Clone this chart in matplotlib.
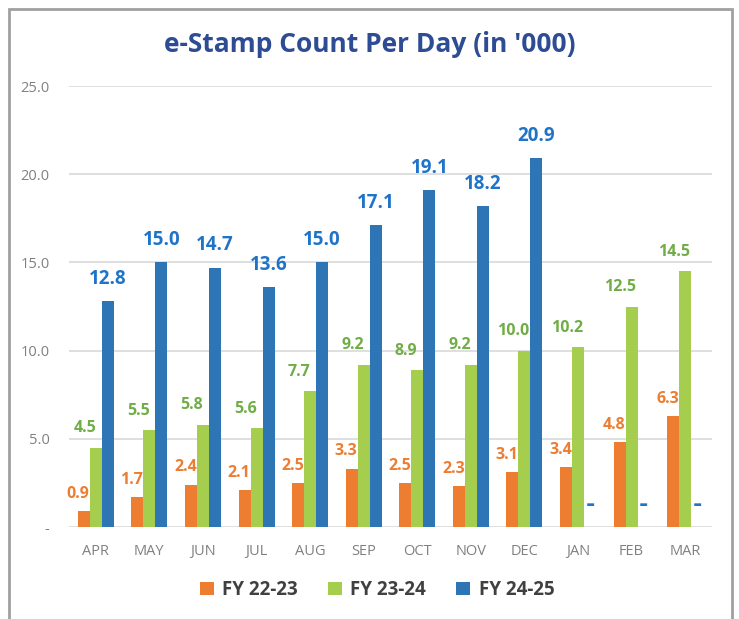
import matplotlib
matplotlib.use("Agg")
import matplotlib.pyplot as plt
from matplotlib.patches import Rectangle
import numpy as np

months = ["APR", "MAY", "JUN", "JUL", "AUG", "SEP", "OCT", "NOV", "DEC", "JAN", "FEB", "MAR"]
fy2223 = [0.9, 1.7, 2.4, 2.1, 2.5, 3.3, 2.5, 2.3, 3.1, 3.4, 4.8, 6.3]
fy2324 = [4.5, 5.5, 5.8, 5.6, 7.7, 9.2, 8.9, 9.2, 10.0, 10.2, 12.5, 14.5]
fy2425 = [12.8, 15.0, 14.7, 13.6, 15.0, 17.1, 19.1, 18.2, 20.9, 0, 0, 0]
series_names = ["FY 22-23", "FY 23-24", "FY 24-25"]
yticks = [0, 5, 10, 15, 20, 25]
ytick_labels = ["-", "5.0", "10.0", "15.0", "20.0", "25.0"]

plt.rcParams['font.family'] = ['Open Sans', 'DejaVu Sans']

W, H = 739, 619
fig = plt.figure(figsize=(W/100, H/100), dpi=100)
ax = fig.add_axes([69/W, 1-527/H, (712-69)/W, (527-86)/H])

bar_colors = ["#ED7D31", "#A5CD4E", "#2E75B6"]
label_colors = ["#ED7D31", "#70AD47", "#1F74C8"]
label_sizes = [11.5, 11.5, 13.5]
dy = [12.5, 14, 16]
dx = [-4, -8, 0]
w = 0.224
x = np.arange(len(months))
data = [fy2223, fy2324, fy2425]
handles = []
for i, vals in enumerate(data):
    xs = x + (i-1)*w
    b = ax.bar(xs, vals, width=w, color=bar_colors[i], label=series_names[i], zorder=3)
    handles.append(b)
    for xi, v in zip(xs, vals):
        if v == 0:
            ax.annotate("-", (xi, v), xytext=(dx[i], dy[i]), textcoords="offset points",
                        ha="center", va="center", color=label_colors[i],
                        fontsize=16, fontweight="bold", family="DejaVu Sans")
        else:
            ax.annotate(f"{v:.1f}", (xi, v), xytext=(dx[i], dy[i]), textcoords="offset points",
                        ha="center", va="center", color=label_colors[i],
                        fontsize=label_sizes[i], fontweight="bold")

ax.set_xlim(-0.5, 11.5)
ax.set_ylim(0, 25)
ax.set_yticks(yticks)
ax.set_yticklabels(ytick_labels)
ax.set_xticks(x)
ax.set_xticklabels(months)
ax.tick_params(axis='both', length=0, colors="#808080", labelsize=10.5)
ax.tick_params(axis='y', pad=14)
ax.tick_params(axis='x', pad=12)
ax.grid(axis='y', color="#D9D9D9", linewidth=1.2, zorder=0)
for s in ax.spines.values():
    s.set_visible(False)

fig.text(0.5, 1-45/H, "e-Stamp Count Per Day (in '000)", ha="center", va="center",
         fontsize=19, fontweight="bold", color="#2D4C93")

leg = fig.legend(handles=handles, loc="center", bbox_to_anchor=(377/W, 1-590/H), ncol=3,
                 frameon=False, handlelength=0.75, handleheight=0.75,
                 columnspacing=1.6, handletextpad=0.45, prop={'weight': 'bold', 'size': 13.5})
for t in leg.get_texts():
    t.set_color("#404040")

fig.patches.append(Rectangle((9/W, -0.05), (732-9)/W, 1.05-9/H, transform=fig.transFigure,
                             fill=False, edgecolor="#A0A0A0", linewidth=2))

fig.savefig("out.png", dpi=100)
